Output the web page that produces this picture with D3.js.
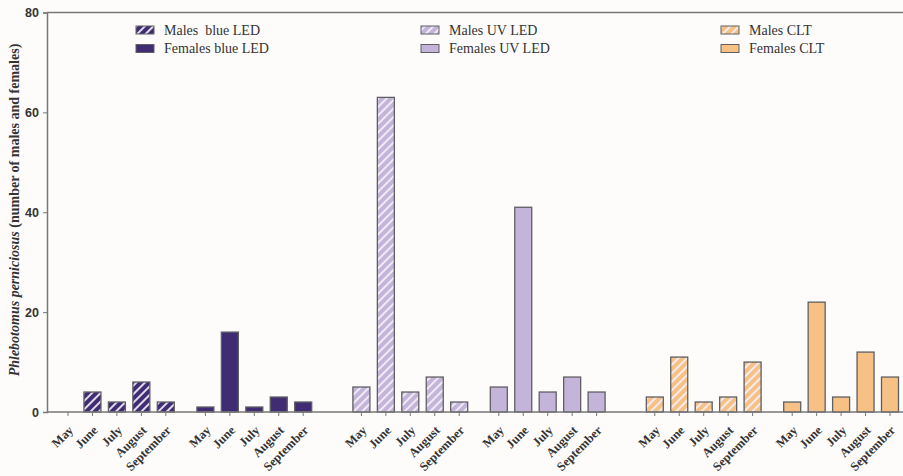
<!DOCTYPE html>
<html><head><meta charset="utf-8">
<script src="https://cdn.jsdelivr.net/npm/d3@7"></script>
<style>body{margin:0;background:#fdfcfb}svg{display:block}</style>
</head><body><svg id="c" width="903" height="476"></svg>
<script>
const months = ["May","June","July","August","September"];
const maleBlue = [0,4,2,6,2];
const femaleBlue = [1,16,1,3,2];
const maleUV = [5,63,4,7,2];
const femaleUV = [5,41,4,7,4];
const maleCLT = [3,11,2,3,10];
const femaleCLT = [2,22,3,12,7];
const yTicks = [0,20,40,60,80];
const seriesNames = ["Males  blue LED","Females blue LED","Males UV LED","Females UV LED","Males CLT","Females CLT"];
const seriesColors = ["#3f2c73","#3f2c73","#c4b4d9","#c4b4d9","#f7c185","#f7c185"];
const hatched = [true,false,true,false,true,false];

const series = [maleBlue,femaleBlue,maleUV,femaleUV,maleCLT,femaleCLT].map((v,i)=>({
  name: seriesNames[i], color: seriesColors[i], hatch: hatched[i],
  treatment: Math.floor(i/2), sex: i%2, values: v
}));

const svg = d3.select("#c");
const axisY = 412, topY = 12, leftX = 47, rightX = 903;
const y = d3.scaleLinear().domain([0,80]).range([axisY, topY+0.5]);
const slot = d => d.treatment*12 + d.sex*5.62 + d.month;
const x = d3.scaleLinear().domain([0, 24+5.62+4]).range([68, 890]);
const bw = 17;

const defs = svg.append("defs");
series.forEach((s,i)=>{
  if(!s.hatch) return;
  const p = defs.append("pattern").attr("id","h"+i).attr("patternUnits","userSpaceOnUse")
    .attr("width",6).attr("height",6).attr("patternTransform","rotate(45)");
  p.append("rect").attr("width",6).attr("height",6).attr("fill",s.color);
  p.append("rect").attr("x",0).attr("width",2).attr("height",6).attr("fill","#f4f0f8").attr("opacity",0.9);
});

// top frame line
svg.append("line").attr("x1",leftX).attr("x2",rightX).attr("y1",topY+0.5).attr("y2",topY+0.5)
  .attr("stroke","#777").attr("stroke-width",1.3);

// bars
const bars = [];
series.forEach((s,i)=>s.values.forEach((v,m)=>bars.push({s, i, v, month:m, treatment:s.treatment, sex:s.sex})));
svg.append("g").selectAll("rect").data(bars.filter(d=>d.v>0)).join("rect")
  .attr("x", d=>x(slot(d))-bw/2).attr("width", bw)
  .attr("y", d=>y(d.v)).attr("height", d=>y(0)-y(d.v))
  .attr("fill", d=>d.s.hatch ? `url(#h${d.i})` : d.s.color)
  .attr("stroke","#5f5f64").attr("stroke-width",1.3);

// y axis
const ya = svg.append("g").attr("transform",`translate(${leftX},0)`)
  .call(d3.axisLeft(y).tickValues(yTicks).tickSize(4).tickPadding(4));
ya.select(".domain").attr("stroke","#777").attr("stroke-width",1.5);
ya.selectAll(".tick line").attr("stroke","#777");
ya.selectAll("text").attr("font-family","Liberation Sans, Arial, sans-serif").attr("font-weight","bold")
  .attr("font-size",12.5).attr("fill","#333");

// x axis
const xa = svg.append("g").attr("transform",`translate(0,${axisY})`);
xa.append("line").attr("x1",leftX).attr("x2",rightX).attr("stroke","#777").attr("stroke-width",1.5);
xa.selectAll("line.t").data(bars).join("line").attr("class","t")
  .attr("x1",d=>x(slot(d))).attr("x2",d=>x(slot(d))).attr("y1",0).attr("y2",4)
  .attr("stroke","#777");
xa.selectAll("text").data(bars).join("text")
  .attr("transform",d=>`translate(${x(slot(d))+6},${19}) rotate(-45)`)
  .attr("text-anchor","end")
  .attr("font-family","Liberation Serif, Times New Roman, serif").attr("font-weight","bold")
  .attr("font-size",12.5).attr("fill","#333")
  .text(d=>months[d.month]);

// y title
const yt = svg.append("text").attr("transform","translate(19,210) rotate(-90)")
  .attr("text-anchor","middle").attr("font-family","Liberation Serif, Times New Roman, serif")
  .attr("font-weight","bold").attr("font-size",14).attr("fill","#333");
yt.append("tspan").attr("font-style","italic").text("Phlebotomus perniciosus");
yt.append("tspan").text(" (number of males and females)");

// legend
const legX = [136, 421, 721];
series.forEach((s,i)=>{
  const lx = legX[s.treatment], ly = 26 + s.sex*18.5;
  svg.append("rect").attr("x",lx).attr("y",ly).attr("width",18).attr("height",8)
    .attr("fill", s.hatch ? `url(#h${i})` : s.color).attr("stroke","#5f5f64").attr("stroke-width",1);
  svg.append("text").attr("x",lx+28).attr("y",ly+8.5)
    .attr("font-family","Liberation Serif, Times New Roman, serif").attr("font-size",14)
    .attr("fill","#333").attr("xml:space","preserve").style("white-space","pre").text(s.name);
});
</script></body></html>
